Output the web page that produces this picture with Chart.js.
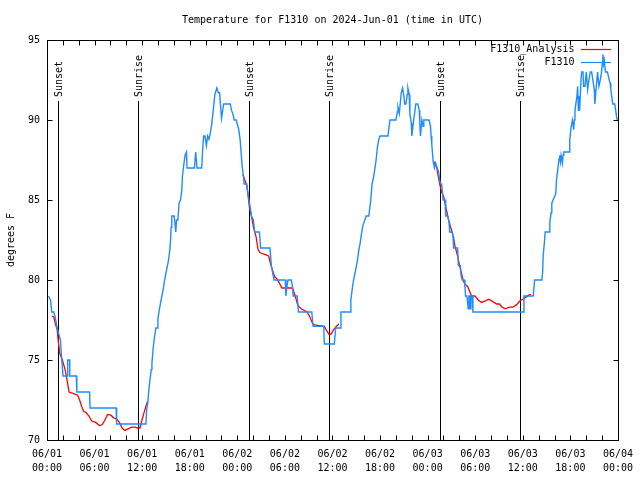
<!DOCTYPE html>
<html>
<head>
<meta charset="utf-8">
<script src="https://cdn.jsdelivr.net/npm/chart.js@4"></script>
<style>
  body { margin: 0; background: #fff; }
</style>
</head>
<body>
<canvas id="myChart" width="640" height="480"></canvas>
<script>
// Hours since 2024-06-01 00:00 UTC and temperature (F)
const f1310Hours = [0.19,0.44,0.6,0.85,1.03,1.28,1.69,1.86,2.03,2.53,2.61,2.86,2.87,3.7,3.76,5.37,5.43,8.72,8.78,12.48,
  12.57,12.73,12.82,12.98,13.15,13.23,13.4,13.57,13.74,13.9,13.99,14.15,14.33,14.49,14.65,14.83,14.99,15.15,15.33,15.49,
  15.58,15.65,15.74,16.03,16.16,16.24,16.33,16.5,16.58,16.66,16.83,17.0,17.08,17.25,17.41,17.59,17.66,18.59,18.75,18.92,
  19.51,19.67,19.76,19.92,20.1,20.26,20.42,20.6,20.76,20.92,21.17,21.42,21.6,21.76,21.93,22.01,22.1,22.27,23.11,23.27,
  23.43,23.61,23.86,24.02,24.18,24.36,24.52,24.61,24.77,24.86,25.19,25.36,25.61,25.78,26.03,26.19,26.78,26.94,28.12,28.29,
  28.63,30.04,30.13,30.21,30.38,30.8,30.96,31.05,31.55,31.71,33.39,33.55,34.9,34.97,36.23,36.4,36.98,37.07,38.23,38.32,
  38.48,38.66,38.91,39.16,39.33,39.49,39.66,39.83,40.08,40.24,40.58,40.83,40.99,41.17,41.33,41.5,41.67,41.83,42.0,43.0,
  43.09,43.25,44.0,44.18,44.26,44.43,44.59,44.68,44.84,45.01,45.1,45.26,45.43,45.51,45.68,45.76,45.94,46.01,46.19,46.35,
  46.51,46.76,46.94,47.01,47.1,47.27,47.44,47.52,48.19,48.36,48.44,48.52,48.7,48.86,49.02,49.2,49.36,49.52,49.61,49.77,
  49.86,49.95,50.2,50.28,50.53,50.7,50.78,51.11,51.2,51.28,51.78,51.87,52.12,52.21,52.37,52.62,52.71,52.78,52.96,53.12,
  53.21,53.29,53.37,53.46,53.63,53.71,60.06,60.15,61.32,61.49,62.41,62.5,62.57,62.75,62.82,63.32,63.41,63.57,63.66,63.82,
  64.0,64.16,64.25,64.41,64.58,64.66,64.75,64.83,65.0,65.08,65.17,65.83,65.92,66.08,66.26,66.42,66.5,66.58,66.83,66.92,
  67.01,67.08,67.17,67.34,67.42,67.59,67.67,67.84,68.01,68.18,68.34,68.51,68.68,69.02,69.09,69.27,69.43,69.6,69.81,69.93,
  70.02,70.1,70.18,70.27,70.43,70.68,70.85,71.02,71.1,71.35,71.6,71.69,71.85,71.94]
const f1310Temps = [79,78.75,78,78,77.7,77,76.25,75,74,74,75,75,74,74,73,73,72,72,71,71,
  71.9,72.4,73,73.75,74.4,74.8,75.8,76.5,77,77,77.6,78.1,78.6,79,79.4,80,80.4,80.8,81.25,81.9,
  82.5,83.3,84,84,83.4,83,83.75,83.75,84.3,84.8,85,85.6,86.5,87.2,87.8,88,87,87,88,87,
  87,88.5,89,89,88.4,89,88.8,89.2,89.7,90.4,91.6,92,91.7,91.7,90.6,90.1,90.4,91,91,90.6,
  90.4,90,90,89.7,89.4,88.75,87.7,87.1,86.5,86,86,85.3,84.6,84,83.75,83,83,82,82,80.9,
  80,80,79,79.4,80,80,79.6,79,79,78,78,77.1,77.1,76,76,77,77,78,78,78.75,
  79.4,80,80.6,81.25,81.9,82.3,82.9,83.4,83.75,84,84,85,86,86.4,86.9,87.5,88.3,88.75,89,89,
  89.4,90,90,90.5,90.8,90.4,91.25,91.7,92,91.5,91,91,91.6,92,91.6,90.4,89.8,89,89.8,90.4,
  91,91,90.6,89.8,89,90,89.6,90,90,89.6,89,88.5,87.4,87,87.3,87,86.8,86.25,86,86,
  85.5,85,85,84,84,83.6,83,83,82.7,82,82,80.9,80.9,80.3,80,80,79.6,79,79,78.2,
  79,79,78.2,79,79,78,78,79,79,80,80,80.5,81.5,82.5,83,83,83.6,84.2,84.8,85,
  85.2,85.4,86.25,86.9,87.6,87.8,87.4,87.8,87.3,87.8,88,88,88.75,89.5,90,89.4,90,90.6,91.5,92.1,
  90.6,91.5,90.6,92.5,93,93,92.1,92.1,93,91.9,92.5,93,93,91.9,91,92.1,93,92.1,92.6,93,
  93.5,94.1,93.5,93.75,93,93,92.6,92.3,91.9,91,91,90.7,90.1,90]

// Analysis only exists at night; null breaks the line between nights
const analysisHours = [0.6,0.85,1.03,1.28,1.44,1.61,1.94,2.28,2.53,2.78,3.36,3.86,4.11,4.37,4.62,4.95,5.29,5.62,6.12,6.62,
  6.96,7.3,7.63,8.05,8.38,8.81,9.13,9.47,9.81,10.22,10.64,11.14,11.39,11.73,11.98,12.23,12.65,13,
  24.69,24.94,25.19,25.36,25.53,25.78,26.03,26.37,26.62,26.87,27.45,27.95,28.2,28.45,28.7,28.95,29.2,29.63,30.21,30.96,
  31.3,31.64,32.05,32.8,33.14,33.47,33.72,34.97,35.31,35.56,35.81,36.15,36.48,36.82,37,
  48.77,49.11,49.27,49.52,49.77,50.03,50.28,50.53,50.78,51.03,51.28,51.46,51.78,52.03,52.28,52.53,52.78,53.04,53.29,53.54,
  53.96,54.38,54.79,55.29,55.72,56.22,56.72,57.05,57.39,57.8,58.31,58.73,59.06,59.31,59.65,59.99,60.31,60.74,61.03]
const analysisTemps = [77.75,77.7,77.3,76.9,76.1,75.4,75,74.4,73.75,73,72.9,72.8,72.5,72.1,71.8,71.7,71.5,71.2,71.1,70.9,
  70.95,71.25,71.6,71.55,71.4,71.3,71.1,70.75,70.6,70.7,70.8,70.8,70.75,70.75,71.25,71.7,72.4,null,
  86.6,86.25,85.9,85.3,84.5,84,83.3,82.7,81.9,81.7,81.6,81.5,81,80.6,80.2,80.1,79.9,79.5,79.5,79.5,
  79,78.4,78.2,78,77.7,77.3,77.2,77.1,76.8,76.6,76.6,76.9,77.1,77.25,null,
  87.4,87.1,86.7,86,85.5,85.2,84.6,84,83.5,83.1,82.6,82.1,81.5,80.9,80.4,79.9,79.7,79.6,79.3,79,
  79,78.75,78.6,78.7,78.8,78.65,78.5,78.5,78.3,78.2,78.3,78.3,78.4,78.5,78.7,78.8,78.9,79.05,79.1]

// Sunrise / sunset markers (hours since start)
const sunHours = [1.4, 11.5, 25.45, 35.6, 49.5, 59.6]
const sunLabels = ['Sunset', 'Sunrise', 'Sunset', 'Sunrise', 'Sunset', 'Sunrise']

const yTicks = [70, 75, 80, 85, 90, 95]
const dayLabels = ['06/01', '06/02', '06/03', '06/04']

const FONT = '10px "DejaVu Sans Mono", "Liberation Mono", monospace'
const BLUE = '#1e8cff'
const RED = '#ff0000'

function toPoints(hours, temps) {
  return hours.map((h, i) => ({ x: h, y: temps[i] }))
}

// Frame, inward ticks, sun lines, legend and titles (gnuplot look)
const decorPlugin = {
  id: 'decor',
  beforeDatasetsDraw(chart) {
    const ctx = chart.ctx
    const area = chart.chartArea
    const xs = chart.scales.x
    ctx.save()
    ctx.strokeStyle = '#000'
    ctx.lineWidth = 1
    ctx.fillStyle = '#000'
    ctx.font = FONT
    sunHours.forEach((h, i) => {
      const px = Math.round(xs.getPixelForValue(h)) + 0.5
      ctx.beginPath()
      ctx.moveTo(px, area.bottom)
      ctx.lineTo(px, area.top + 61)
      ctx.stroke()
      ctx.save()
      ctx.translate(px + 1, area.top + 57)
      ctx.rotate(-Math.PI / 2)
      ctx.textAlign = 'left'
      ctx.textBaseline = 'middle'
      ctx.fillText(sunLabels[i], 0, 0)
      ctx.restore()
    })
    ctx.restore()
  },
  afterDraw(chart) {
    const ctx = chart.ctx
    const area = chart.chartArea
    const xs = chart.scales.x
    const ys = chart.scales.y
    ctx.save()
    ctx.strokeStyle = '#000'
    ctx.lineWidth = 1
    const l = Math.round(area.left) + 0.5
    const r = Math.round(area.right) + 0.5
    const t = Math.round(area.top) + 0.5
    const b = Math.round(area.bottom) + 0.5
    ctx.strokeRect(l, t, r - l, b - t)

    ctx.beginPath()
    // x ticks every 2 hours, top and bottom, pointing in
    for (let h = 0; h <= 72; h += 2) {
      const px = Math.round(xs.getPixelForValue(h)) + 0.5
      ctx.moveTo(px, b); ctx.lineTo(px, b - 5)
      ctx.moveTo(px, t); ctx.lineTo(px, t + 5)
    }
    // y ticks, left and right
    yTicks.forEach(v => {
      const py = Math.round(ys.getPixelForValue(v)) + 0.5
      ctx.moveTo(l, py); ctx.lineTo(l + 5, py)
      ctx.moveTo(r, py); ctx.lineTo(r - 5, py)
    })
    ctx.stroke()

    ctx.fillStyle = '#000'
    ctx.font = FONT
    // title
    ctx.textAlign = 'center'
    ctx.textBaseline = 'middle'
    ctx.fillText('Temperature for F1310 on 2024-Jun-01 (time in UTC)', (area.left + area.right) / 2, 20)
    // y title
    ctx.save()
    ctx.translate(11, (area.top + area.bottom) / 2)
    ctx.rotate(-Math.PI / 2)
    ctx.fillText('degrees F', 0, 0)
    ctx.restore()

    // legend
    const legend = [['F1310_Analysis', RED, 49.5], ['F1310', BLUE, 62.5]]
    ctx.textAlign = 'right'
    legend.forEach(item => {
      ctx.fillStyle = '#000'
      ctx.fillText(item[0], 574.5, item[2])
      ctx.strokeStyle = item[1]
      ctx.lineWidth = 1.2
      ctx.beginPath()
      ctx.moveTo(581, item[2])
      ctx.lineTo(611, item[2])
      ctx.stroke()
    })
    ctx.restore()
  }
}

const ctx = document.getElementById('myChart')

new Chart(ctx, {
  type: 'line',
  data: {
    datasets: [{
      label: 'F1310',
      data: toPoints(f1310Hours, f1310Temps),
      borderColor: BLUE,
      borderWidth: 1.4,
      pointRadius: 0,
      tension: 0
    }, {
      label: 'F1310_Analysis',
      data: toPoints(analysisHours, analysisTemps),
      borderColor: RED,
      borderWidth: 1.3,
      pointRadius: 0,
      tension: 0,
      spanGaps: false
    }]
  },
  options: {
    responsive: false,
    animation: false,
    layout: { padding: { top: 40, right: 19, left: 0, bottom: 0 } },
    plugins: {
      legend: { display: false },
      tooltip: { enabled: false }
    },
    scales: {
      x: {
        type: 'linear',
        min: 0,
        max: 72,
        afterFit(scale) { scale.height = 40 },
        grid: { display: false, drawTicks: false },
        border: { display: false },
        ticks: {
          stepSize: 6,
          autoSkip: false,
          maxRotation: 0,
          padding: 7,
          color: '#000',
          font: { family: '"DejaVu Sans Mono", "Liberation Mono", monospace', size: 10, lineHeight: 1.4 },
          callback: (value) => {
            const day = dayLabels[Math.floor(value / 24)]
            const hour = value % 24
            return [day, (hour < 10 ? '0' : '') + hour + ':00']
          }
        }
      },
      y: {
        min: 70,
        max: 95,
        afterFit(scale) { scale.width = 47 },
        grid: { display: false, drawTicks: false },
        border: { display: false },
        ticks: {
          stepSize: 5,
          padding: 7,
          color: '#000',
          font: { family: '"DejaVu Sans Mono", "Liberation Mono", monospace', size: 10 }
        }
      }
    }
  },
  plugins: [decorPlugin]
})
</script>
</body>
</html>
